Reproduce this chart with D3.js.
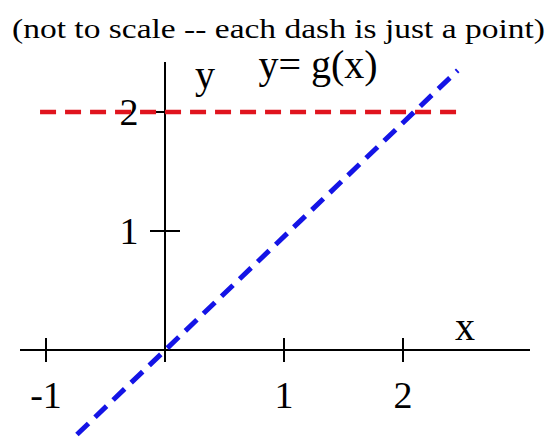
<!DOCTYPE html><html><head><script src="https://d3js.org/d3.v7.min.js"></script>
<style>body{margin:0;background:#fff}text{font-family:"Liberation Serif","Times New Roman",serif}</style></head><body>
<svg id="c" width="550" height="440"></svg>
<script>
const xTicks=[-1,1,2];
const yTicks=[1,2];
const redLine=[[-1.05,2],[2.45,2]];
const blueLine=[[-0.74,-0.71],[2.46,2.35]];
const title="(not to scale -- each dash is just a point)";
const fnLabel="y= g(x)";
const svg=d3.select("#c");
const x=d3.scaleLinear().domain([0,1]).range([165,284]);
const y=d3.scaleLinear().domain([0,1]).range([350,231]);
svg.append("line").attr("x1",20).attr("x2",530).attr("y1",y(0)).attr("y2",y(0)).attr("stroke","#000").attr("stroke-width",2);
svg.append("line").attr("x1",x(0)).attr("x2",x(0)).attr("y1",62).attr("y2",362).attr("stroke","#000").attr("stroke-width",2);
xTicks.forEach(t=>{
 svg.append("line").attr("x1",x(t)).attr("x2",x(t)).attr("y1",y(0)-12).attr("y2",y(0)+12).attr("stroke","#000").attr("stroke-width",2);
 svg.append("text").attr("x",x(t)).attr("y",408).attr("text-anchor","middle").attr("font-size",38).text(t);
});
yTicks.forEach(t=>{
 svg.append("line").attr("x1",x(0)-15).attr("x2",x(0)+15).attr("y1",y(t)).attr("y2",y(t)).attr("stroke","#000").attr("stroke-width",2);
 svg.append("text").attr("x",x(0)-36).attr("y",y(t)+13).attr("text-anchor","middle").attr("font-size",38).text(t);
});
const line=d3.line().x(d=>x(d[0])).y(d=>y(d[1]));
svg.append("path").attr("d",line(redLine)).attr("stroke","#e0141e").attr("stroke-width",4.5).attr("stroke-dasharray","16,9").attr("fill","none");
svg.append("path").attr("d",line(blueLine)).attr("stroke","#1414e6").attr("stroke-width",5).attr("stroke-dasharray","16,9").attr("fill","none");
svg.append("text").attr("x",465).attr("y",340).attr("text-anchor","middle").attr("font-size",40).text("x");
svg.append("text").attr("x",205).attr("y",88).attr("text-anchor","middle").attr("font-size",40).text("y");
svg.append("text").attr("x",318).attr("y",78).attr("text-anchor","middle").attr("font-size",40).text(fnLabel);
svg.append("text").attr("x",12).attr("y",38).attr("font-size",28).attr("textLength",533).attr("lengthAdjust","spacingAndGlyphs").text(title);
</script></body></html>
